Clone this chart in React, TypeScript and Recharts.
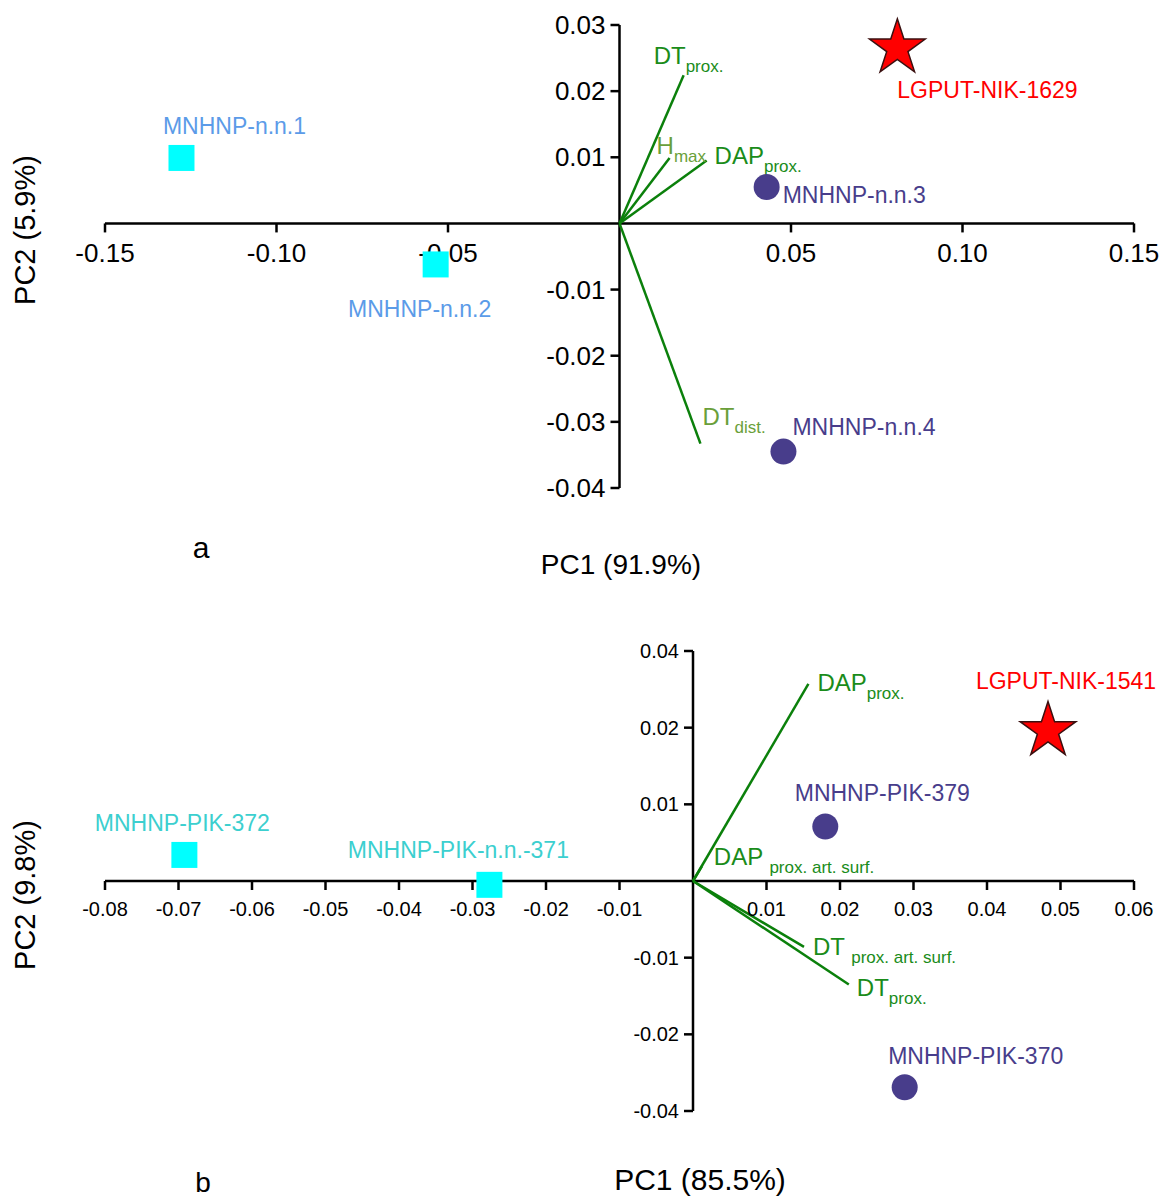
import React from 'react'
import { ScatterChart, Scatter, XAxis, YAxis, ReferenceLine, ReferenceDot, Symbols } from 'recharts'

// ---- panel a data ----
const aSquareNames = ['MNHNP-n.n.1', 'MNHNP-n.n.2']
const aSquarePC1 = [-0.1277, -0.0536]
const aSquarePC2 = [0.0099, -0.0062]

const aCircleNames = ['MNHNP-n.n.3', 'MNHNP-n.n.4']
const aCirclePC1 = [0.0429, 0.0478]
const aCirclePC2 = [0.0055, -0.0345]

const aStarNames = ['LGPUT-NIK-1629']
const aStarPC1 = [0.081]
const aStarPC2 = [0.0265]

const aVectorMain = ['DT', 'H', 'DAP', 'DT']
const aVectorSub = ['prox.', 'max', 'prox.', 'dist.']
const aVectorPC1 = [0.0187, 0.0146, 0.0254, 0.0236]
const aVectorPC2 = [0.0224, 0.0099, 0.0095, -0.0333]

const aXTicks = [-0.15, -0.1, -0.05, 0.05, 0.1, 0.15]
const aXTickLabels = ['-0.15', '-0.10', '-0.05', '0.05', '0.10', '0.15']
const aYTicks = [0.03, 0.02, 0.01, -0.01, -0.02, -0.03, -0.04]
const aYTickLabels = ['0.03', '0.02', '0.01', '-0.01', '-0.02', '-0.03', '-0.04']

// ---- panel b data ----
const bSquareNames = ['MNHNP-PIK-372', 'MNHNP-PIK-n.n.-371']
const bSquarePC1 = [-0.0692, -0.0277]
const bSquarePC2 = [0.0034, -0.0005]

const bCircleNames = ['MNHNP-PIK-379', 'MNHNP-PIK-370']
const bCirclePC1 = [0.018, 0.0288]
const bCirclePC2 = [0.0071, -0.0269]

const bStarNames = ['LGPUT-NIK-1541']
const bStarPC1 = [0.0483]
const bStarPC2 = [0.0196]

const bVectorMain = ['DAP', 'DAP ', 'DT ', 'DT']
const bVectorSub = ['prox.', 'prox. art. surf.', 'prox. art. surf.', 'prox.']
const bVectorPC1 = [0.0157, 0.0012, 0.0151, 0.0212]
const bVectorPC2 = [0.0257, 0.0019, -0.0086, -0.0135]

const bXTicks = [-0.08, -0.07, -0.06, -0.05, -0.04, -0.03, -0.02, -0.01, 0.01, 0.02, 0.03, 0.04, 0.05, 0.06]
const bXTickLabels = ['-0.08', '-0.07', '-0.06', '-0.05', '-0.04', '-0.03', '-0.02', '-0.01', '0.01', '0.02', '0.03', '0.04', '0.05', '0.06']
// the printed labels on this axis are not evenly spaced; they are kept as printed
const bYTicks = [0.03, 0.02, 0.01, -0.01, -0.02, -0.03]
const bYTickLabels = ['0.04', '0.02', '0.01', '-0.01', '-0.02', '-0.04']

const FONT = '"Liberation Sans", Arial, Helvetica, sans-serif'
const GREEN = '#0b800b'
const GREEN_TXT = '#1a8c1a'
const OLIVE_TXT = '#6a9f3a'
const NAVY = '#483d8b'
const CYAN = '#00ffff'

// label offsets (px) relative to each mark
const labelPos: Record<string, { dx: number; dy: number; anchor: 'start' | 'middle' | 'end' }> = {
  'MNHNP-n.n.1': { dx: 53, dy: -32, anchor: 'middle' },
  'MNHNP-n.n.2': { dx: -16, dy: 45, anchor: 'middle' },
  'MNHNP-n.n.3': { dx: 16, dy: 8, anchor: 'start' },
  'MNHNP-n.n.4': { dx: 9, dy: -25, anchor: 'start' },
  'LGPUT-NIK-1629': { dx: 0, dy: 42, anchor: 'start' },
  'MNHNP-PIK-372': { dx: -2, dy: -32, anchor: 'middle' },
  'MNHNP-PIK-n.n.-371': { dx: -31, dy: -35, anchor: 'middle' },
  'MNHNP-PIK-379': { dx: 57, dy: -34, anchor: 'middle' },
  'MNHNP-PIK-370': { dx: 71, dy: -31, anchor: 'middle' },
  'LGPUT-NIK-1541': { dx: 18, dy: -50, anchor: 'middle' },
}

const aVectorLabelPos = [
  { dx: -30, dy: -19, color: GREEN_TXT },
  { dx: -13, dy: -12, color: OLIVE_TXT },
  { dx: 8, dy: -5, color: GREEN_TXT },
  { dx: 2, dy: -27, color: OLIVE_TXT },
]
const bVectorLabelPos = [
  { dx: 9, dy: -1, color: GREEN_TXT },
  { dx: 12, dy: -9, color: GREEN_TXT },
  { dx: 9, dy: 0, color: GREEN_TXT },
  { dx: 8, dy: 3, color: GREEN_TXT },
]

const toPoints = (names: string[], pc1: number[], pc2: number[]) =>
  names.map((name, i) => ({ name, x: pc1[i], y: pc2[i] }))

const makeShape =
  (type: 'square' | 'circle' | 'star', fill: string, labelColor: string) =>
  (props: any) => {
    const { cx, cy, payload } = props
    const pos = labelPos[payload.name]
    const size = type === 'star' ? 964 : type === 'square' ? 676 : 531
    return (
      <g>
        <Symbols
          cx={cx}
          cy={cy}
          type={type}
          size={size}
          fill={fill}
          stroke={type === 'star' ? '#3a1010' : 'none'}
          strokeWidth={1.5}
        />
        <text
          x={cx + pos.dx}
          y={cy + pos.dy}
          textAnchor={pos.anchor}
          dominantBaseline="central"
          fill={labelColor}
          fontSize={23}
          fontFamily={FONT}
        >
          {payload.name}
        </text>
      </g>
    )
  }

interface PanelProps {
  xDomain: [number, number]
  yDomain: [number, number]
  margin: { top: number; right: number; bottom: number; left: number }
  height: number
  xTicks: number[]
  xTickLabels: string[]
  yTicks: number[]
  yTickLabels: string[]
  tickFont: number
  tickLabelGap: number
  squares: { name: string; x: number; y: number }[]
  circles: { name: string; x: number; y: number }[]
  stars: { name: string; x: number; y: number }[]
  squareLabelColor: string
  vMain: string[]
  vSub: string[]
  vPC1: number[]
  vPC2: number[]
  vLabel: { dx: number; dy: number; color: string }[]
}

function Biplot(p: PanelProps) {
  return (
    <ScatterChart width={1170} height={p.height} margin={p.margin} style={{ overflow: 'visible' }}>
      <XAxis type="number" dataKey="x" domain={p.xDomain} hide />
      <YAxis type="number" dataKey="y" domain={p.yDomain} hide />

      <ReferenceLine x={0} stroke="#000" strokeWidth={2.5} />
      <ReferenceLine y={0} stroke="#000" strokeWidth={2.5} />

      {p.xTicks.map((t, i) => (
        <ReferenceDot
          key={'xt' + i}
          x={t}
          y={0}
          r={0}
          ifOverflow="visible"
          shape={(s: any) => (
            <g>
              <line x1={s.cx} y1={s.cy} x2={s.cx} y2={s.cy + 9} stroke="#000" strokeWidth={2.5} />
              <text
                x={s.cx}
                y={s.cy + p.tickLabelGap}
                textAnchor="middle"
                dominantBaseline="central"
                fontSize={p.tickFont}
                fontFamily={FONT}
                fill="#000"
              >
                {p.xTickLabels[i]}
              </text>
            </g>
          )}
        />
      ))}
      {p.yTicks.map((t, i) => (
        <ReferenceDot
          key={'yt' + i}
          x={0}
          y={t}
          r={0}
          ifOverflow="visible"
          shape={(s: any) => (
            <g>
              <line x1={s.cx - 9} y1={s.cy} x2={s.cx} y2={s.cy} stroke="#000" strokeWidth={2.5} />
              <text
                x={s.cx - 14}
                y={s.cy}
                textAnchor="end"
                dominantBaseline="central"
                fontSize={p.tickFont}
                fontFamily={FONT}
                fill="#000"
              >
                {p.yTickLabels[i]}
              </text>
            </g>
          )}
        />
      ))}

      {/* loading vectors */}
      {p.vPC1.map((vx, i) => (
        <ReferenceLine
          key={'v' + i}
          segment={[
            { x: 0, y: 0 },
            { x: vx, y: p.vPC2[i] },
          ]}
          stroke={GREEN}
          strokeWidth={2.5}
        />
      ))}
      {p.vPC1.map((vx, i) => (
        <ReferenceDot
          key={'vl' + i}
          x={vx}
          y={p.vPC2[i]}
          r={0}
          ifOverflow="visible"
          shape={(s: any) => (
            <text
              x={s.cx + p.vLabel[i].dx}
              y={s.cy + p.vLabel[i].dy + 8}
              fill={p.vLabel[i].color}
              fontSize={24}
              fontFamily={FONT}
              style={{ whiteSpace: 'pre' }}
            >
              {p.vMain[i]}
              <tspan fontSize={17} dy={8}>
                {p.vSub[i]}
              </tspan>
            </text>
          )}
        />
      ))}

      <Scatter data={p.squares} shape={makeShape('square', CYAN, p.squareLabelColor)} isAnimationActive={false} />
      <Scatter data={p.circles} shape={makeShape('circle', NAVY, NAVY)} isAnimationActive={false} />
      <Scatter data={p.stars} shape={makeShape('star', '#ff0000', '#ff0000')} isAnimationActive={false} />
    </ScatterChart>
  )
}

const abs = (left: number, top: number, size: number, extra?: React.CSSProperties): React.CSSProperties => ({
  position: 'absolute',
  left,
  top,
  fontSize: size,
  fontFamily: FONT,
  color: '#000',
  whiteSpace: 'nowrap',
  lineHeight: 1,
  ...extra,
})

export default function App() {
  return (
    <div style={{ position: 'absolute', left: 0, top: 0, width: 1170, height: 1199, background: '#fff', overflow: 'hidden' }}>
      <div style={{ position: 'absolute', left: 0, top: 0 }}>
        <Biplot
          height={600}
          margin={{ top: 25, right: 36, bottom: 112, left: 105 }}
          xDomain={[-0.15, 0.15]}
          yDomain={[-0.04, 0.03]}
          xTicks={aXTicks}
          xTickLabels={aXTickLabels}
          yTicks={aYTicks}
          yTickLabels={aYTickLabels}
          tickFont={26}
          tickLabelGap={30}
          squares={toPoints(aSquareNames, aSquarePC1, aSquarePC2)}
          circles={toPoints(aCircleNames, aCirclePC1, aCirclePC2)}
          stars={toPoints(aStarNames, aStarPC1, aStarPC2)}
          squareLabelColor="#5b9be8"
          vMain={aVectorMain}
          vSub={aVectorSub}
          vPC1={aVectorPC1}
          vPC2={aVectorPC2}
          vLabel={aVectorLabelPos}
        />
      </div>
      <div style={{ position: 'absolute', left: 0, top: 600 }}>
        <Biplot
          height={599}
          margin={{ top: 51, right: 36, bottom: 88, left: 105 }}
          xDomain={[-0.08, 0.06]}
          yDomain={[-0.03, 0.03]}
          xTicks={bXTicks}
          xTickLabels={bXTickLabels}
          yTicks={bYTicks}
          yTickLabels={bYTickLabels}
          tickFont={20}
          tickLabelGap={28}
          squares={toPoints(bSquareNames, bSquarePC1, bSquarePC2)}
          circles={toPoints(bCircleNames, bCirclePC1, bCirclePC2)}
          stars={toPoints(bStarNames, bStarPC1, bStarPC2)}
          squareLabelColor="#3ccfcf"
          vMain={bVectorMain}
          vSub={bVectorSub}
          vPC1={bVectorPC1}
          vPC2={bVectorPC2}
          vLabel={bVectorLabelPos}
        />
      </div>

      {/* axis titles and panel letters */}
      <div style={abs(25, 230, 29, { transform: 'translate(-50%, -50%) rotate(-90deg)' })}>PC2 (5.9%)</div>
      <div style={abs(621, 565, 28, { transform: 'translate(-50%, -50%)' })}>PC1 (91.9%)</div>
      <div style={abs(201, 548, 30, { transform: 'translate(-50%, -50%)' })}>a</div>
      <div style={abs(25, 895, 29, { transform: 'translate(-50%, -50%) rotate(-90deg)' })}>PC2 (9.8%)</div>
      <div style={abs(700, 1180, 30, { transform: 'translate(-50%, -50%)' })}>PC1 (85.5%)</div>
      <div style={abs(203, 1183, 28, { transform: 'translate(-50%, -50%)' })}>b</div>
    </div>
  )
}
